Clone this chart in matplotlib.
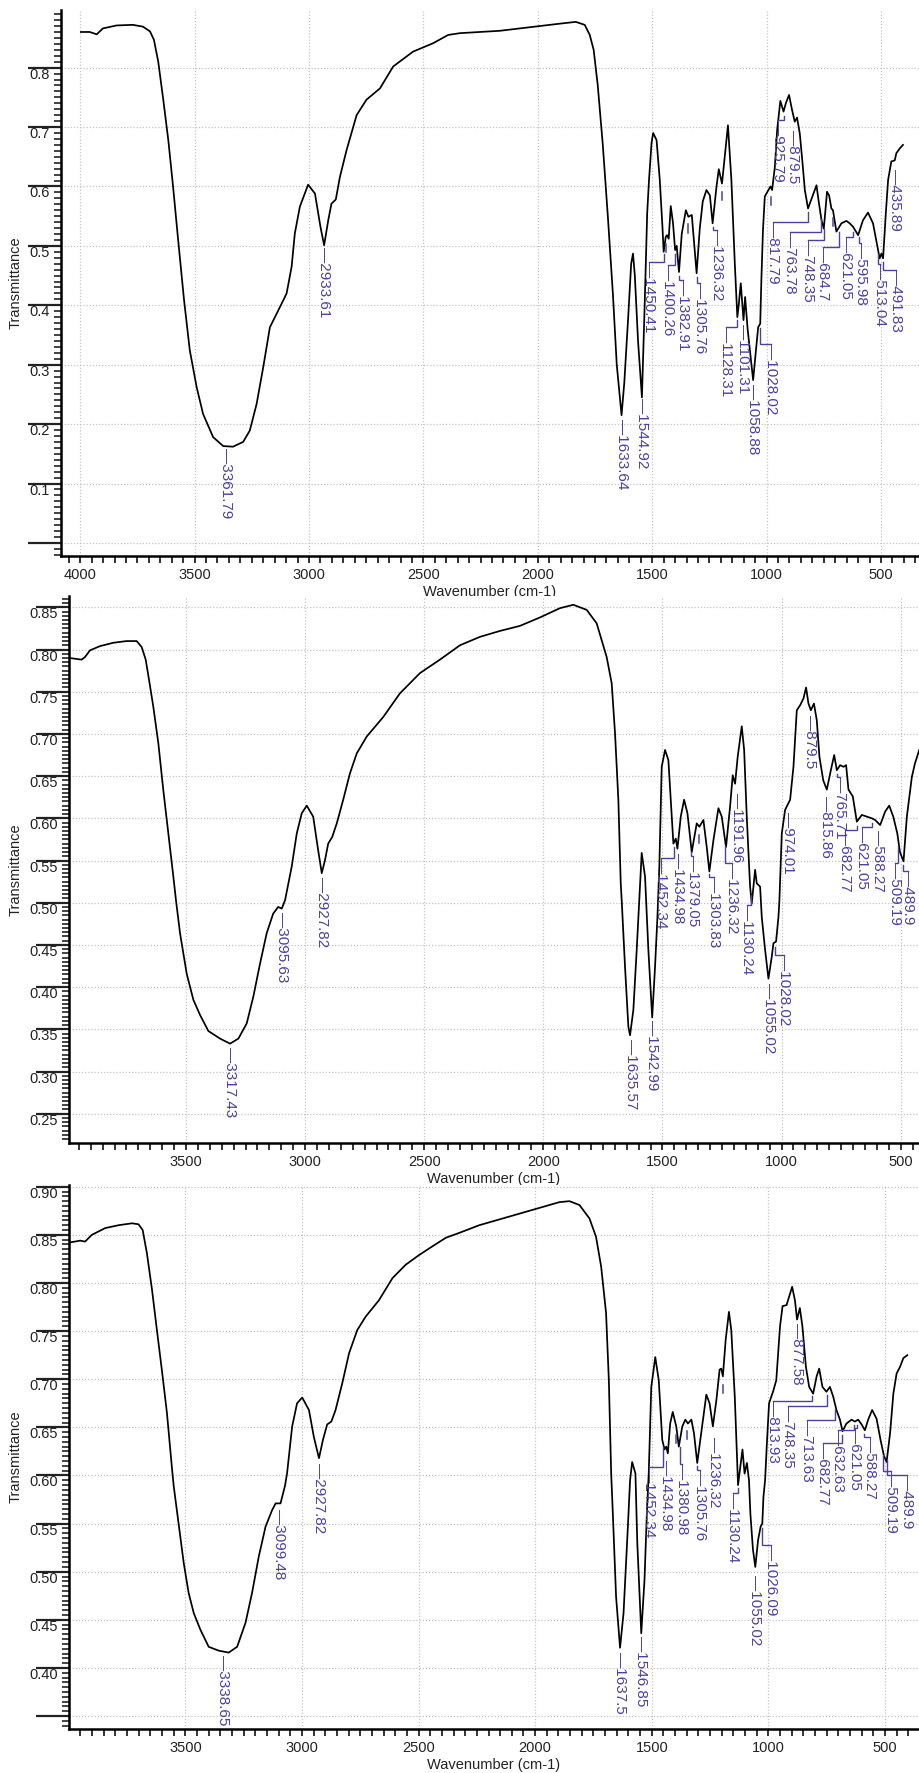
import numpy as np
import matplotlib
matplotlib.use("Agg")
import matplotlib.pyplot as plt
from matplotlib.ticker import MultipleLocator, FuncFormatter

plt.rcParams['font.family'] = ['Liberation Sans', 'DejaVu Sans']

PURPLE = "#4f3f9b"
GRID = "#c4c4c4"

# ── spectrum 1 ─────────────────────────────────────────────────────────────
wn1 = [3997, 3958, 3928, 3901, 3841, 3770, 3726, 3695, 3678, 3659,
       3637, 3615, 3594, 3572, 3546, 3521, 3491, 3463, 3419, 3375,
       3332, 3288, 3259, 3229, 3200, 3171, 3149, 3127, 3113, 3098,
       3076, 3062, 3040, 3004, 2974, 2950, 2934, 2916, 2902, 2883,
       2865, 2836, 2792, 2749, 2690, 2632, 2545, 2458, 2392, 2341,
       2253, 2166, 2079, 1991, 1904, 1834, 1795, 1773, 1756, 1738,
       1716, 1694, 1672, 1655, 1634, 1622, 1605, 1592, 1584, 1576,
       1562, 1545, 1533, 1522, 1514, 1503, 1496, 1481, 1467, 1455,
       1450, 1441, 1435, 1428, 1419, 1409, 1400, 1393, 1383, 1371,
       1353, 1342, 1327, 1316, 1306, 1292, 1279, 1263, 1248, 1236,
       1219, 1209, 1195, 1183, 1169, 1154, 1139, 1128, 1122, 1113,
       1101, 1094, 1083, 1059, 1037, 1028, 1023, 1016, 1008, 1001,
       983, 976, 964, 954, 940, 926, 916, 902, 889, 877,
       867, 855, 843, 833, 819, 803, 782, 771, 760, 750,
       736, 727, 717, 710, 695, 673, 651, 637, 622, 600,
       579, 557, 535, 513, 506, 498, 491, 479, 469, 455,
       440, 433, 418, 404]
t1 = [0.860, 0.860, 0.856, 0.866, 0.871, 0.872, 0.869, 0.861, 0.847, 0.810,
      0.746, 0.678, 0.599, 0.510, 0.408, 0.324, 0.262, 0.217, 0.178, 0.163,
      0.162, 0.170, 0.189, 0.234, 0.296, 0.363, 0.380, 0.397, 0.408, 0.420,
      0.465, 0.521, 0.566, 0.603, 0.588, 0.532, 0.501, 0.543, 0.571, 0.578,
      0.616, 0.661, 0.720, 0.746, 0.765, 0.802, 0.827, 0.841, 0.855, 0.858,
      0.860, 0.862, 0.866, 0.870, 0.874, 0.877, 0.872, 0.855, 0.830, 0.770,
      0.670, 0.550, 0.420, 0.300, 0.215, 0.270, 0.380, 0.470, 0.487, 0.450,
      0.340, 0.245, 0.400, 0.555, 0.611, 0.673, 0.690, 0.678, 0.611, 0.530,
      0.490, 0.515, 0.518, 0.512, 0.567, 0.538, 0.493, 0.500, 0.456, 0.520,
      0.560, 0.549, 0.552, 0.500, 0.454, 0.530, 0.575, 0.594, 0.585, 0.538,
      0.600, 0.629, 0.605, 0.650, 0.703, 0.611, 0.470, 0.380, 0.400, 0.437,
      0.375, 0.414, 0.360, 0.274, 0.363, 0.369, 0.442, 0.526, 0.583, 0.588,
      0.600, 0.594, 0.633, 0.695, 0.744, 0.726, 0.740, 0.754, 0.729, 0.709,
      0.716, 0.689, 0.639, 0.594, 0.563, 0.580, 0.602, 0.571, 0.543, 0.529,
      0.591, 0.585, 0.563, 0.560, 0.524, 0.538, 0.542, 0.538, 0.532, 0.518,
      0.543, 0.556, 0.538, 0.493, 0.479, 0.487, 0.479, 0.555, 0.611, 0.642,
      0.644, 0.656, 0.664, 0.670]
labels1 = ["3361.79", "2933.61", "1633.64", "1544.92", "1450.41", "1400.26",
           "1382.91", "1305.76", "1236.32", "1128.31", "1101.31", "1058.88",
           "1028.02", "925.79", "879.5", "817.79", "763.78", "748.35",
           "684.7", "621.05", "595.98", "513.04", "491.83", "435.89"]
marks1 = [1438, 1343, 1195, 979, 712]

# ── spectrum 2 ─────────────────────────────────────────────────────────────
wn2 = [3990, 3938, 3924, 3903, 3861, 3805, 3749, 3707, 3686, 3669,
       3655, 3637, 3616, 3595, 3574, 3553, 3542, 3525, 3497, 3469,
       3441, 3406, 3357, 3315, 3280, 3245, 3217, 3189, 3161, 3134,
       3113, 3098, 3084, 3056, 3035, 3014, 2993, 2966, 2945, 2930,
       2916, 2903, 2886, 2867, 2840, 2812, 2783, 2741, 2672, 2602,
       2518, 2434, 2350, 2266, 2182, 2098, 2014, 1930, 1874, 1818,
       1776, 1755, 1734, 1713, 1699, 1685, 1675, 1671, 1657, 1643,
       1636, 1622, 1608, 1597, 1587, 1573, 1559, 1543, 1531, 1521,
       1513, 1503, 1489, 1475, 1465, 1454, 1444, 1437, 1423, 1409,
       1395, 1377, 1356, 1345, 1328, 1314, 1303, 1286, 1265, 1251,
       1233, 1216, 1205, 1195, 1184, 1167, 1157, 1146, 1132, 1125,
       1111, 1104, 1090, 1083, 1069, 1055, 1041, 1034, 1023, 1013,
       1009, 999, 985, 964, 950, 936, 922, 908, 897, 887,
       877, 864, 852, 841, 825, 810, 793, 779, 768, 754,
       740, 729, 719, 701, 684, 663, 642, 621, 607, 586,
       565, 548, 531, 514, 503, 488, 474, 453, 440, 422]
t2 = [0.790, 0.788, 0.791, 0.799, 0.804, 0.808, 0.810, 0.810, 0.803, 0.788,
      0.764, 0.732, 0.689, 0.633, 0.582, 0.531, 0.503, 0.464, 0.416, 0.385,
      0.367, 0.348, 0.339, 0.333, 0.339, 0.357, 0.389, 0.428, 0.464, 0.487,
      0.495, 0.493, 0.503, 0.543, 0.582, 0.606, 0.615, 0.602, 0.562, 0.535,
      0.551, 0.570, 0.578, 0.594, 0.622, 0.653, 0.677, 0.697, 0.720, 0.748,
      0.772, 0.788, 0.805, 0.815, 0.822, 0.828, 0.838, 0.849, 0.853, 0.847,
      0.831, 0.811, 0.791, 0.760, 0.701, 0.622, 0.523, 0.503, 0.424, 0.353,
      0.343, 0.373, 0.444, 0.503, 0.559, 0.531, 0.444, 0.364, 0.424, 0.483,
      0.543, 0.661, 0.681, 0.669, 0.622, 0.570, 0.576, 0.564, 0.602, 0.622,
      0.606, 0.560, 0.594, 0.590, 0.598, 0.566, 0.537, 0.574, 0.612, 0.602,
      0.566, 0.614, 0.651, 0.641, 0.673, 0.709, 0.681, 0.602, 0.519, 0.499,
      0.539, 0.523, 0.519, 0.483, 0.444, 0.410, 0.436, 0.452, 0.454, 0.483,
      0.503, 0.582, 0.610, 0.622, 0.661, 0.728, 0.734, 0.742, 0.755, 0.736,
      0.728, 0.736, 0.716, 0.673, 0.645, 0.634, 0.657, 0.675, 0.657, 0.663,
      0.661, 0.663, 0.634, 0.626, 0.596, 0.604, 0.602, 0.600, 0.598, 0.592,
      0.608, 0.615, 0.602, 0.582, 0.560, 0.549, 0.602, 0.649, 0.665, 0.681]
labels2 = ["3317.43", "3095.63", "2927.82", "1635.57", "1542.99", "1452.34",
           "1434.98", "1379.05", "1303.83", "1236.32", "1191.96", "1130.24",
           "1055.02", "1028.02", "974.01", "879.5", "815.86", "765.71",
           "682.77", "621.05", "588.27", "509.19", "489.9"]
marks2 = [1345]

# ── spectrum 3 ─────────────────────────────────────────────────────────────
wn3 = [3998, 3951, 3930, 3901, 3844, 3787, 3729, 3701, 3683, 3665,
       3643, 3622, 3601, 3579, 3558, 3550, 3529, 3507, 3486, 3464,
       3436, 3400, 3357, 3314, 3278, 3242, 3214, 3185, 3156, 3128,
       3113, 3092, 3073, 3064, 3042, 3021, 2999, 2970, 2949, 2927,
       2910, 2892, 2874, 2856, 2827, 2798, 2763, 2727, 2670, 2612,
       2555, 2498, 2441, 2383, 2326, 2240, 2154, 2068, 1982, 1896,
       1853, 1810, 1767, 1739, 1717, 1696, 1684, 1674, 1667, 1653,
       1636, 1621, 1603, 1593, 1584, 1570, 1562, 1545, 1531, 1521,
       1513, 1502, 1485, 1470, 1455, 1445, 1438, 1431, 1421, 1410,
       1395, 1384, 1369, 1356, 1345, 1330, 1319, 1305, 1288, 1266,
       1252, 1238, 1223, 1209, 1202, 1195, 1183, 1169, 1159, 1144,
       1130, 1111, 1102, 1092, 1083, 1077, 1066, 1056, 1044, 1033,
       1026, 1021, 1014, 1007, 997, 980, 966, 950, 939, 922,
       907, 898, 886, 877, 865, 854, 839, 825, 808, 793,
       782, 768, 751, 736, 722, 708, 693, 682, 665, 643,
       629, 615, 600, 586, 572, 555, 536, 519, 504, 493,
       478, 464, 450, 435, 421, 404]
t3 = [0.842, 0.844, 0.843, 0.850, 0.857, 0.860, 0.862, 0.861, 0.855, 0.831,
      0.793, 0.751, 0.710, 0.665, 0.609, 0.589, 0.550, 0.509, 0.478, 0.457,
      0.440, 0.422, 0.418, 0.416, 0.422, 0.447, 0.478, 0.516, 0.547, 0.564,
      0.571, 0.571, 0.589, 0.602, 0.651, 0.675, 0.681, 0.668, 0.640, 0.618,
      0.637, 0.653, 0.656, 0.668, 0.696, 0.727, 0.751, 0.765, 0.782, 0.805,
      0.819, 0.829, 0.838, 0.847, 0.852, 0.860, 0.866, 0.872, 0.878, 0.884,
      0.885, 0.881, 0.867, 0.848, 0.817, 0.769, 0.699, 0.602, 0.561, 0.474,
      0.421, 0.457, 0.544, 0.595, 0.614, 0.602, 0.530, 0.436, 0.492, 0.561,
      0.602, 0.692, 0.723, 0.699, 0.637, 0.627, 0.630, 0.623, 0.654, 0.666,
      0.651, 0.630, 0.651, 0.658, 0.654, 0.658, 0.644, 0.613, 0.644, 0.684,
      0.675, 0.651, 0.678, 0.710, 0.711, 0.703, 0.741, 0.770, 0.751, 0.682,
      0.590, 0.627, 0.602, 0.613, 0.595, 0.560, 0.523, 0.505, 0.533, 0.547,
      0.550, 0.578, 0.595, 0.630, 0.675, 0.687, 0.699, 0.755, 0.776, 0.777,
      0.789, 0.796, 0.782, 0.762, 0.774, 0.755, 0.713, 0.692, 0.685, 0.703,
      0.711, 0.692, 0.687, 0.692, 0.682, 0.668, 0.658, 0.646, 0.654, 0.658,
      0.656, 0.658, 0.653, 0.647, 0.658, 0.668, 0.659, 0.637, 0.620, 0.614,
      0.644, 0.685, 0.706, 0.713, 0.722, 0.725]
labels3 = ["3338.65", "3099.48", "2927.82", "1637.5", "1546.85", "1452.34",
           "1434.98", "1380.98", "1305.76", "1236.32", "1130.24", "1055.02",
           "1026.09", "877.58", "813.93", "748.35", "713.63", "682.77",
           "632.63", "621.05", "588.27", "509.19", "489.9"]
marks3 = [1395, 1348, 1195]

# label placement (wavenumber of text column, transmittance of text top)
lx1 = [3362, 2934, 1634, 1545, 1514, 1433, 1365, 1292, 1219, 1176, 1105, 1059,
       979, 950, 884, 972, 899, 819, 754, 651, 586, 506, 433, 440]
ly1 = [0.159, 0.498, 0.209, 0.244, 0.473, 0.468, 0.442, 0.437, 0.526, 0.363,
       0.368, 0.268, 0.335, 0.712, 0.695, 0.540, 0.524, 0.510, 0.498, 0.515,
       0.504, 0.470, 0.459, 0.630]
lx2 = [3315, 3098, 2930, 1633, 1545, 1506, 1433, 1370, 1282, 1209, 1188, 1146,
       1053, 990, 974, 882, 813, 755, 734, 663, 594, 524, 468]
ly2 = [0.329, 0.489, 0.531, 0.339, 0.361, 0.553, 0.559, 0.555, 0.531, 0.547,
       0.630, 0.497, 0.405, 0.438, 0.608, 0.722, 0.626, 0.649, 0.586, 0.590,
       0.586, 0.547, 0.537]
lx3 = [3340, 3099, 2927, 1636, 1545, 1510, 1438, 1370, 1293, 1233, 1152, 1058,
       987, 879, 980, 915, 836, 765, 701, 629, 565, 476, 407]
ly3 = [0.413, 0.565, 0.613, 0.417, 0.433, 0.609, 0.616, 0.612, 0.606, 0.640,
       0.582, 0.497, 0.528, 0.758, 0.677, 0.672, 0.658, 0.634, 0.647, 0.649,
       0.640, 0.605, 0.600]

W, H = 919, 1773
fig = plt.figure(figsize=(W / 100, H / 100), dpi=100)
fig.patch.set_facecolor("white")

panels = [
    # wn, t, labels, marks, lx, ly, box px (l, top, r, bottom), xlim, ylim,
    # y step, y minor, first labelled y, format, ylabel x (axes fraction)
    (wn1, t1, labels1, marks1, lx1, ly1, (61, 10, 919, 556), (4084, 334),
     (-0.022, 0.897), 0.1, 0.01, 0.1, "{:.1f}", -0.045),
    (wn2, t2, labels2, marks2, lx2, ly2, (69, 596, 919, 1143), (3991, 423),
     (0.2153, 0.8634), 0.05, 0.005, 0.25, "{:.2f}", -0.055),
    (wn3, t3, labels3, marks3, lx3, ly3, (69, 1185, 919, 1729), (3999, 354),
     (0.3366, 0.9018), 0.05, 0.005, 0.40, "{:.2f}", -0.055),
]

for wn, t, labels, marks, lx, ly, box, xlim, ylim, ystep, yminor, ylo, fmt, ylx in panels:
    l, tp, r, b = box
    ax = fig.add_axes([l / W, 1 - b / H, (r - l) / W, (b - tp) / H])
    ax.plot(wn, t, color="black", lw=1.25, zorder=3)
    ax.set_xlim(*xlim)
    ax.set_ylim(*ylim)

    for s in ("top", "right"):
        ax.spines[s].set_visible(False)
    for s in ("left", "bottom"):
        ax.spines[s].set_linewidth(1.8)

    ax.xaxis.set_major_locator(MultipleLocator(500))
    ax.xaxis.set_minor_locator(MultipleLocator(50))
    ax.yaxis.set_major_locator(MultipleLocator(ystep))
    ax.yaxis.set_minor_locator(MultipleLocator(yminor))
    ax.xaxis.set_major_formatter(FuncFormatter(lambda v, p: f"{v:.0f}"))
    ax.yaxis.set_major_formatter(FuncFormatter(
        lambda v, p, lo=ylo, f=fmt: f.format(v) if v > lo - 1e-6 else ""))

    ax.tick_params(axis="x", which="both", direction="out", length=5, width=1.3,
                   pad=4, labelsize=10.5, colors="#222222")
    ax.tick_params(axis="y", which="major", direction="out", length=24, width=1.6,
                   pad=-16, labelsize=10.5, colors="#222222")
    ax.tick_params(axis="y", which="minor", direction="out", length=5, width=1.2,
                   colors="#222222")
    for lab in ax.get_yticklabels():
        lab.set_verticalalignment("top")

    ax.grid(True, which="major", color=GRID, linestyle=(0, (1, 1.5)), linewidth=0.9)
    ax.set_axisbelow(True)

    ax.set_xlabel("Wavenumber (cm-1)", fontsize=10.5, labelpad=2, color="#222222")
    ax.set_ylabel("Transmittance", fontsize=10.5, color="#222222")
    ax.yaxis.set_label_coords(ylx, 0.5)

    wr = np.array(wn[::-1], float)
    tr = np.array(t[::-1], float)
    span = ylim[1] - ylim[0]
    for lab, x0, y0 in zip(labels, lx, ly):
        pk = float(lab)
        yc = np.interp(pk, wr, tr)
        if abs(x0 - pk) > 6:
            ax.plot([pk, pk, x0], [yc - 0.008 * span, y0, y0], color=PURPLE,
                    lw=1.0, zorder=4, solid_joinstyle="miter")
        ax.text(x0, y0, "\u2014" + lab, rotation=270, ha="center", va="top",
                color=PURPLE, fontsize=11, zorder=5)
    # short peak markers without a label
    for m in marks:
        yc = np.interp(m, wr, tr)
        ax.plot([m, m], [yc - 0.015 * span, yc - 0.030 * span], color=PURPLE,
                lw=1.1, zorder=4)

fig.savefig("out.png", dpi=100, facecolor="white")
